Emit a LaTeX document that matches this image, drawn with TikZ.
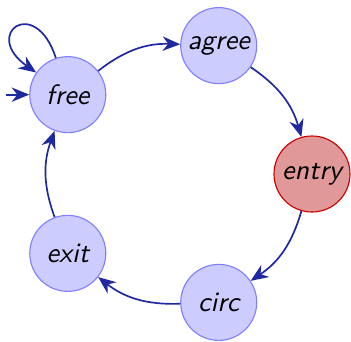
\documentclass[tikz,border=0pt]{standalone}
\usetikzlibrary{arrows.meta,automata}
\definecolor{edgeblue}{RGB}{30,40,160}
\definecolor{entryfill}{RGB}{224,152,152}
\definecolor{entrydraw}{RGB}{200,0,0}
\tikzset{every state/.style={circle,minimum size=0.95cm,inner sep=0pt,
                             fill=blue!20,draw=blue!50,thin,
                             font=\sffamily\itshape},
        hot/.style={fill=entryfill,draw=entrydraw},
        trans/.style={-{Stealth[length=2.2mm,width=1.8mm]},edgeblue,semithick},
        }

\begin{document}
\begin{tikzpicture}
    \useasboundingbox (-2.2125,-2.0875) rectangle (2.175,2.175);
    \node[state] (free) at (144:1.6875) {free};
    \node[state] (agree) at (72:1.6875) {agree};
    \node[state,hot] (entry) at (0:1.6875) {entry};
    \node[state] (circ) at (-72:1.6875) {circ};
    \node[state] (exit) at (-144:1.6875) {exit};

    \coordinate (start) at ([xshift=-0.29cm]free.west);
    \draw[trans] (start) -- (free);
    \draw[trans] (free) edge[out=108,in=145,looseness=7] (free);
    \draw[trans] (free) edge[bend left=20] (agree)
                 (agree) edge[bend left=20] (entry)
                 (entry) edge[bend left=20] (circ)
                 (circ) edge[bend left=20] (exit)
                 (exit) edge[bend left=20] (free);
\end{tikzpicture}
\end{document}
